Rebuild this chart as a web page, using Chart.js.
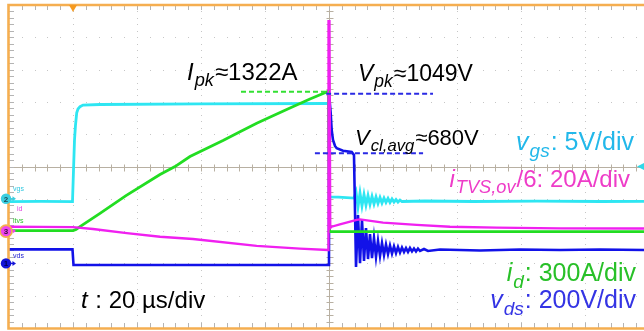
<!DOCTYPE html>
<html><head><meta charset="utf-8">
<script src="https://cdn.jsdelivr.net/npm/chart.js@4/dist/chart.umd.min.js"></script>
<style>html,body{margin:0;padding:0;background:#fff;overflow:hidden}</style>
</head><body>
<canvas id="c" width="644" height="331"></canvas>
<script>
// ---- time base (µs), 20 µs/div, trigger at t = 0 ----
const timeMin = -20, timeMax = 178.44, timePerDiv = 20;

// ---- channel settings: per-division scale and zero level (divisions from bottom) ----
const perDiv  = {vgs: 5, tvs: 20, id: 300, vds: 200};
const zeroDiv = {vgs: 4, tvs: 3, id: 3, vds: 2};

// ---- vgs (V) ----
const vgsTime  = [-20,-10,-0.16,0.16,0.47,0.78,1.16,1.56,2.19,3.13,8.4,39.7,79.4,80.0,80.16,83.0,87.8,
  88.44,89.06,89.69,90.31,90.94,91.56,92.19,92.81,93.44,94.06,94.69,95.31,95.94,96.56,97.19,97.81,98.44,99.06,99.69,100.31,100.94,101.56,102.19,102.81,
  110,125,145,165,178.44];
const vgsValue = [-0.45,-0.4,-0.45,4.45,9.1,11.4,13.3,13.9,14.26,14.5,14.6,14.7,14.75,14.75,0.28,0.25,0.1,
  1.05,-1.27,0.9,-1.11,0.67,-0.96,0.51,-0.88,0.36,-0.8,0.28,-0.73,0.2,-0.65,0.12,-0.57,0.05,-0.57,-0.03,-0.5,-0.11,-0.5,-0.19,-0.42,
  -0.34,-0.42,-0.36,-0.42,-0.39];

// ---- iTVS,ov / 6 (A) ----
const tvsTime  = [-20,-10,0,6.25,16.8,27.2,37.5,57.4,70.9,79.7,79.84,80.16,80.4,80.84,83.4,88.66,89.7,96.9,107.4,117.8,132.4,152.2,178.44];
const tvsValue = [2.7,2.6,2.5,1.3,-1.2,-3.5,-4.9,-9.2,-10.8,-11.7,130,130,1.9,2.7,4.1,6.9,7.3,5.2,3.8,2.7,2.1,1.7,1.6];

// ---- id (A) ----
const idTime  = [-20,0,0.94,2.19,8.44,16.56,27.19,31.88,36.56,46.88,52.19,57.41,62.5,67.81,74.06,79.28,79.84,80.16,178.44];
const idValue = [4,4,15,41,165,329,526,599,693,841,922,1002,1072,1144,1227,1292,1301,-5,-5];

// ---- vds (V) ----
const vdsTime  = [-20,-0.16,0.16,79.69,80.0,80.53,80.84,81.25,81.88,82.41,84.38,87.09,87.81,
  88.44,89.06,89.69,90.31,90.94,91.56,92.19,92.81,93.44,94.06,94.69,95.31,95.94,96.56,97.19,97.81,98.44,99.06,99.69,100.31,100.94,101.56,102.19,102.81,
  103.44,104.06,104.69,105.31,105.94,106.56,107.19,107.81,108.44,
  109.69,110.94,114.69,127.19,139.69,152.19,164.69,178.44];
const vdsValue = [87,87,-10,-10,1055,931,826,764,727,713,698,690,671,
  -22,300,2,269,15,219,27,182,33,157,40,139,46,126,52,117,58,111,61,105,64,102,67,98,
  71,95,71,95,74,92,74,92,77,
  89,77,86,80,86,83,86,83];

// ---- marked levels ----
const ipkLevel = 1295, ipkSpan = [52.5, 80.3];
const vpkLevel = 1050, vpkSpan = [79.1, 112.5];
const vclLevel = 682,  vclSpan = [75.6, 109.4];

const pts = (t, v) => t.map((x, i) => ({x, y: v[i]}));
const axisFor = ch => ({type:'linear', axis:'y', display:false, min: -zeroDiv[ch]*perDiv[ch], max: (10-zeroDiv[ch])*perDiv[ch]});

const FONT = '"Liberation Sans", Arial, sans-serif';
function richWidth(ctx, runs, size) {
  let w = 0;
  for (const r of runs) {
    const s = r.sub ? size * 0.76 : size;
    ctx.font = (r.it ? 'italic ' : '') + s + 'px ' + FONT;
    w += ctx.measureText(r.t).width + (r.it && !r.sub ? 1 : 0) + (r.sub ? 1 : 0);
  }
  return w;
}
function drawRich(ctx, x, y, runs, color, size, alignRight) {
  ctx.fillStyle = color; ctx.textBaseline = 'alphabetic'; ctx.textAlign = 'left';
  let cx = alignRight ? x - richWidth(ctx, runs, size) : x;
  for (const r of runs) {
    const s = r.sub ? size * 0.76 : size;
    ctx.font = (r.it ? 'italic ' : '') + s + 'px ' + FONT;
    ctx.fillText(r.t, cx, y + (r.sub ? size * 0.26 : 0));
    cx += ctx.measureText(r.t).width + (r.it && !r.sub ? 1 : 0) + (r.sub ? 1 : 0);
  }
}

const graticule = {
  id: 'graticule',
  beforeDatasetsDraw(chart) {
    const {ctx} = chart; const x = chart.scales.x, div = chart.scales.yDiv;
    const top = div.getPixelForValue(10), bot = div.getPixelForValue(0);
    const left = x.getPixelForValue(timeMin), right = chart.width;
    ctx.save();
    ctx.fillStyle = '#c6c6c6';
    for (let k = 1; k <= 9; k++) {
      if (k === 5) continue;
      const px = Math.round(x.getPixelForValue(timeMin + k * timePerDiv));
      for (let m = 1; m < 50; m++) ctx.fillRect(px, Math.round(div.getPixelForValue(m / 5)), 1, 1);
    }
    for (let d = 1; d < 10; d++) {
      if (d === 5) continue;
      const py = Math.round(div.getPixelForValue(d));
      for (let m = 1; m < 50; m++) ctx.fillRect(Math.round(x.getPixelForValue(timeMin + m * timePerDiv / 5)), py, 1, 1);
    }
    const cx = Math.round(x.getPixelForValue(timeMin + 5 * timePerDiv)) + 0.5;
    const cy = Math.round(div.getPixelForValue(5)) + 0.5;
    ctx.strokeStyle = '#b8b0a2'; ctx.lineWidth = 1;
    ctx.beginPath();
    ctx.moveTo(left, cy); ctx.lineTo(right, cy);
    ctx.moveTo(cx, top); ctx.lineTo(cx, bot);
    for (let m = 1; m < 50; m++) {
      const px = Math.round(x.getPixelForValue(timeMin + m * timePerDiv / 5)) + 0.5;
      ctx.moveTo(px, cy - 3); ctx.lineTo(px, cy + 4);
      const py = Math.round(div.getPixelForValue(m / 5)) + 0.5;
      ctx.moveTo(cx - 3, py); ctx.lineTo(cx + 4, py);
    }
    ctx.stroke();
    ctx.strokeStyle = '#b4b4b4';
    ctx.beginPath();
    for (let m = 1; m < 50; m++) {
      const py = Math.round(div.getPixelForValue(m / 5)) + 0.5;
      ctx.moveTo(left, py); ctx.lineTo(left + 5, py);
      const px = Math.round(x.getPixelForValue(timeMin + m * timePerDiv / 5)) + 0.5;
      ctx.moveTo(px, top); ctx.lineTo(px, top + 5);
      ctx.moveTo(px, bot); ctx.lineTo(px, bot - 5);
    }
    ctx.stroke();
    ctx.restore();
  },
  afterDatasetsDraw(chart) {
    const {ctx} = chart; const x = chart.scales.x, div = chart.scales.yDiv;
    const top = div.getPixelForValue(10), bot = div.getPixelForValue(0);
    const left = x.getPixelForValue(timeMin);
    ctx.save();
    ctx.strokeStyle = '#F5AE50'; ctx.lineWidth = 2.6;
    ctx.beginPath();
    ctx.moveTo(chart.width, top); ctx.lineTo(left - 0.5, top); ctx.lineTo(left - 0.5, bot + 0.5); ctx.lineTo(chart.width, bot + 0.5);
    ctx.stroke();
    const tx = x.getPixelForValue(0);
    ctx.fillStyle = '#F59A20';
    ctx.beginPath(); ctx.moveTo(tx - 4, top); ctx.lineTo(tx + 4, top); ctx.lineTo(tx, top + 7); ctx.closePath(); ctx.fill();
    const ty = div.getPixelForValue(5);
    ctx.fillStyle = '#30D8E8';
    ctx.beginPath(); ctx.moveTo(chart.width - 7, ty); ctx.lineTo(chart.width, ty - 3.5); ctx.lineTo(chart.width, ty + 3.5); ctx.closePath(); ctx.fill();
    const marker = (ch, label, fill, textCol, ring, arrowCol) => {
      const y = div.getPixelForValue(zeroDiv[ch]);
      if (arrowCol) {
        ctx.strokeStyle = arrowCol; ctx.fillStyle = arrowCol; ctx.lineWidth = 1.5;
        ctx.beginPath(); ctx.moveTo(10, y); ctx.lineTo(13, y); ctx.stroke();
        ctx.beginPath(); ctx.moveTo(16, y); ctx.lineTo(12.5, y - 2.5); ctx.lineTo(12.5, y + 2.5); ctx.closePath(); ctx.fill();
      }
      if (ring) { ctx.fillStyle = ring; ctx.beginPath(); ctx.arc(6, y, 6.8, 0, Math.PI * 2); ctx.fill(); }
      ctx.fillStyle = fill; ctx.beginPath(); ctx.arc(6, y, 5.2, 0, Math.PI * 2); ctx.fill();
      ctx.fillStyle = textCol; ctx.font = 'bold 8px ' + FONT; ctx.textAlign = 'center'; ctx.textBaseline = 'middle';
      ctx.fillText(label, 6, y + 0.5);
    };
    marker('vgs', '2', '#3CCFE0', '#1a4a55', null, '#3CCFE0');
    marker('tvs', '3', '#EE44EE', '#3a103a', '#F5AE50', '#EE44EE');
    marker('vds', '1', '#1414D8', '#000050', null, '#1414D8');
    ctx.textAlign = 'left'; ctx.textBaseline = 'alphabetic'; ctx.font = '7px ' + FONT;
    ctx.fillStyle = '#30C8E0'; ctx.fillText('vgs', 13, 191);
    ctx.fillStyle = '#E040E0'; ctx.fillText('id', 17, 211);
    ctx.fillStyle = '#30C030'; ctx.fillText('itvs', 13, 223);
    ctx.fillStyle = '#2020D0'; ctx.fillText('vds', 13, 258);
    drawRich(ctx, 187, 80, [{t:'I',it:1},{t:'pk',it:1,sub:1},{t:'≈1322A'}], '#000', 24);
    drawRich(ctx, 358, 81, [{t:'V',it:1},{t:'pk',it:1,sub:1},{t:'≈1049V'}], '#000', 23);
    drawRich(ctx, 355, 145, [{t:'V',it:1},{t:'cl,avg',it:1,sub:1},{t:'≈680V'}], '#000', 22);
    drawRich(ctx, 634, 150, [{t:'v',it:1},{t:'gs',it:1,sub:1},{t:': 5V/div'}], '#22B8EA', 25, true);
    drawRich(ctx, 630, 187, [{t:'i',it:1},{t:'TVS,ov',it:1,sub:1},{t:'/6: 20A/div'}], '#EE3CC8', 24, true);
    drawRich(ctx, 636, 281, [{t:'i',it:1},{t:'d',it:1,sub:1},{t:': 300A/div'}], '#28C028', 25, true);
    drawRich(ctx, 636, 308, [{t:'v',it:1},{t:'ds',it:1,sub:1},{t:': 200V/div'}], '#3434E4', 25, true);
    drawRich(ctx, 81, 308, [{t:'t',it:1},{t:' : 20 µs/div'}], '#000', 24);
    ctx.restore();
  }
};

const line = (label, data, axis, color, width, order, dash) => ({
  label, data, yAxisID: axis, borderColor: color, borderWidth: width, pointRadius: 0,
  tension: 0, fill: false, order, borderDash: dash || [], borderCapStyle: 'butt'
});

new Chart(document.getElementById('c'), {
  type: 'line',
  data: {
    datasets: [
      line('iTVS,ov/6', pts(tvsTime, tvsValue), 'yTvs', '#F020F0', 2.3, 1),
      line('id', pts(idTime, idValue), 'yId', '#22DD22', 2.8, 2),
      line('vds', pts(vdsTime, vdsValue), 'yVds', '#1212E8', 2.6, 3),
      line('vgs', pts(vgsTime, vgsValue), 'yVgs', '#2EE6F2', 2.8, 4),
      line('Ipk', pts(ipkSpan, [ipkLevel, ipkLevel]), 'yId', '#33E033', 2, 0, [5, 3]),
      line('Vpk', pts(vpkSpan, [vpkLevel, vpkLevel]), 'yVds', '#2A2AE4', 2, 0, [5, 3]),
      line('Vcl', pts(vclSpan, [vclLevel, vclLevel]), 'yVds', '#2A2AE4', 2, 0, [5, 3])
    ]
  },
  options: {
    responsive: false, animation: false, devicePixelRatio: 1,
    layout: {padding: {left: 9, top: 5, right: 0, bottom: 3}},
    plugins: {legend: {display: false}, tooltip: {enabled: false}},
    scales: {
      x: {type: 'linear', axis: 'x', display: false, min: timeMin, max: timeMax},
      yVgs: axisFor('vgs'), yTvs: axisFor('tvs'), yId: axisFor('id'), yVds: axisFor('vds'),
      yDiv: {type: 'linear', axis: 'y', display: false, min: 0, max: 10}
    }
  },
  plugins: [graticule]
});
</script>
</body></html>
